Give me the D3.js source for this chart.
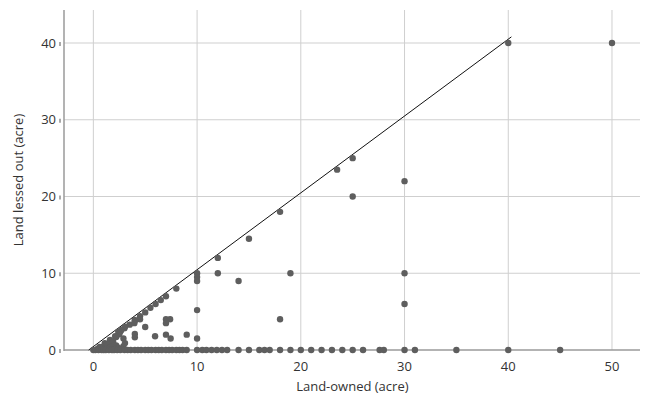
<!DOCTYPE html>
<html><head><meta charset="utf-8">
<script src="https://cdn.jsdelivr.net/npm/d3@7"></script>
<style>body{margin:0;background:#fff}svg{display:block}text{font-family:"Open Sans","Noto Sans",sans-serif}</style>
</head><body><svg id="c" width="646" height="401"></svg>
<script>
// Land owned (x) and land lessed out (y), acre
const landOwned = [
  50,40,30,30,30,25,25,23.5,18,18,19,15,14,12,12,
  10,10,10,10,10,8,7,6.5,6,5.5,5,4.5,4,3.5,3,2.6,2.1,1.6,1.1,0.6,
  7,7.4,7,7,7.45,9,5,4.5,4,4,4,3.95,3.05,2.7,2.4,2.5,2.2,1.9,2.9,5.95,2.9,1.9,3.05,
  0.4,0.7,1,1.3,1.5,1.8,2.2,1.2,1.7,2.4,
  0,0.2,0.5,0.8,1,1.2,1.5,1.8,2,2.3,2.6,3,3.3,3.6,4,4.3,4.6,5,5.3,5.6,6,6.3,6.6,7,7.3,7.6,8,8.3,8.6,9,
  10,10.5,10.9,11.4,11.9,12.4,12.9,14,15,16,16.5,17,18,19,20,21,22,23,24,25,26,27.6,28,30,31,35,40,45
];
const landLessed = [
  40,40,22,10,6,25,20,23.5,18,4,10,14.5,9,12,10,
  10,9.5,9,5.2,1.5,8,7,6.5,6,5.5,4.9,4.4,3.8,3.3,2.85,2.4,1.8,1.3,0.9,0.4,
  4,4,3.5,2,1.5,2,3,4,3.9,2.1,1.65,3.5,3.05,2.6,2.4,2.05,1.7,0.95,1.5,1.8,0.5,1.1,0.9,
  0.15,0.35,0.5,0.7,0.3,0.9,0.6,0.2,0.4,0.3,
  0,0,0,0,0,0,0,0,0,0,0,0,0,0,0,0,0,0,0,0,0,0,0,0,0,0,0,0,0,0,
  0,0,0,0,0,0,0,0,0,0,0,0,0,0,0,0,0,0,0,0,0,0,0,0,0,0,0,0
];
const xTicks = [0,10,20,30,40,50];
const yTicks = [0,10,20,30,40];
const refLine = [[-0.45,0],[40.3,40.8]];
const xTitle = "Land-owned (acre)";
const yTitle = "Land lessed out (acre)";

const svg = d3.select("#c");
const x = d3.scaleLinear().domain([-2.83,52.7]).range([64,640]);
const y = d3.scaleLinear().domain([0,44.3]).range([350,10]);

// grid
svg.append("g").selectAll("line").data(xTicks).join("line")
  .attr("x1",d=>x(d)).attr("x2",d=>x(d)).attr("y1",y(44.3)).attr("y2",y(0))
  .attr("stroke","#cfcfcf").attr("stroke-width",1);
svg.append("g").selectAll("line").data(yTicks.filter(d=>d>0)).join("line")
  .attr("x1",64).attr("x2",640).attr("y1",d=>y(d)).attr("y2",d=>y(d))
  .attr("stroke","#cfcfcf").attr("stroke-width",1);

// axes lines
svg.append("line").attr("x1",64).attr("x2",640).attr("y1",y(0)).attr("y2",y(0))
  .attr("stroke","#9a9a9a").attr("stroke-width",1.5);
svg.append("line").attr("x1",64).attr("x2",64).attr("y1",y(44.3)).attr("y2",y(0)+1)
  .attr("stroke","#9a9a9a").attr("stroke-width",1.5);

// tick labels
const yl = svg.append("g");
yl.selectAll("text").data(yTicks).join("text")
  .attr("x",56).attr("y",d=>y(d)+4.5).attr("text-anchor","end")
  .attr("font-size",13).attr("fill","#333").text(d=>d);
yl.selectAll("line").data(yTicks).join("line")
  .attr("x1",60).attr("x2",60).attr("y1",d=>y(d)-1).attr("y2",d=>y(d)+3)
  .attr("stroke","#555").attr("stroke-width",1);
svg.append("g").selectAll("text").data(xTicks).join("text")
  .attr("x",d=>x(d)).attr("y",371).attr("text-anchor","middle")
  .attr("font-size",13).attr("fill","#333").text(d=>d);

// titles
svg.append("text").attr("x",x(0)+259).attr("y",391).attr("text-anchor","middle")
  .attr("font-size",13).attr("fill","#333").text(xTitle);
svg.append("text").attr("transform","translate(23,180) rotate(-90)").attr("text-anchor","middle")
  .attr("font-size",13).attr("fill","#333").text(yTitle);

// reference line
svg.append("line").attr("x1",x(refLine[0][0])).attr("y1",y(refLine[0][1]))
  .attr("x2",x(refLine[1][0])).attr("y2",y(refLine[1][1]))
  .attr("stroke","#111").attr("stroke-width",1);

// points
svg.append("g").selectAll("circle").data(landOwned.map((v,i)=>[v,landLessed[i]])).join("circle")
  .attr("cx",d=>x(d[0])).attr("cy",d=>y(d[1])).attr("r",3.2).attr("fill","#5e5e5e");
</script></body></html>
